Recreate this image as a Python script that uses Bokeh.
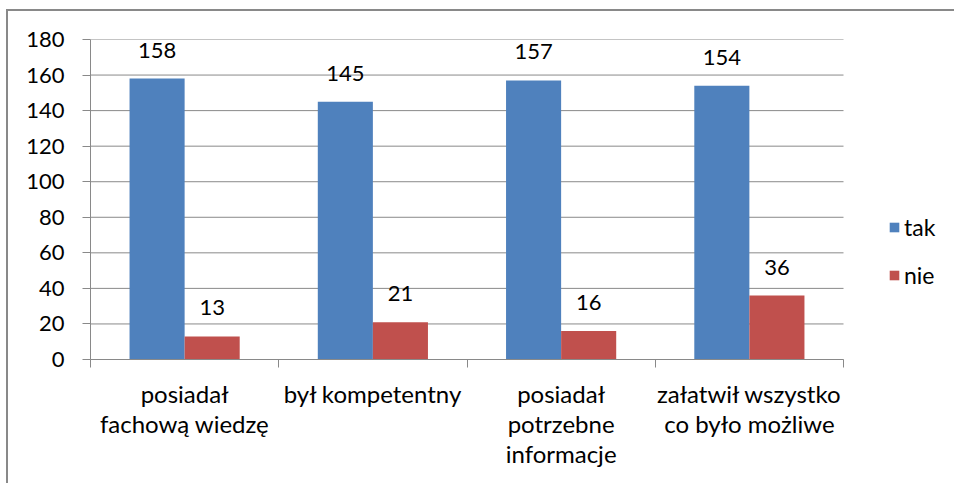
import numpy as np
from bokeh.plotting import figure
from bokeh.models import (ColumnDataSource, Range1d, FixedTicker, LabelSet, Legend, LegendItem)
from bokeh.core.properties import value
from bokeh.transform import dodge
from bokeh.embed import file_html
from bokeh.resources import INLINE

categories = ["posiadał\nfachową wiedzę", "był kompetentny", "posiadał\npotrzebne\ninformacje",
              "załatwił wszystko\nco było możliwe"]
tak = [158, 145, 157, 154]
nie = [13, 21, 16, 36]
y_ticks = [0, 20, 40, 60, 80, 100, 120, 140, 160, 180]
series_names = ["tak", "nie"]

BLUE = "#4F81BD"
RED = "#C0504D"
GRAY = "#898989"
FONT = "Lato"
FS_NUM = "22px"
FS_TXT = "24px"

n = len(categories)
centers = list(np.arange(n) + 0.5)
edges = list(np.arange(n + 1).astype(float))

# the frame also holds the legend area on the right; the category axis spans [0, n]
FRAME_W = 864
AXIS_W = 753
x_end = n * FRAME_W / AXIS_W

src = ColumnDataSource(dict(x=centers, tak=tak, nie=nie,
                            tak_s=[str(v) for v in tak], nie_s=[str(v) for v in nie]))

p = figure(frame_width=FRAME_W, frame_height=320, output_backend="svg", toolbar_location=None,
           x_range=Range1d(0, x_end), y_range=Range1d(y_ticks[0], y_ticks[-1]),
           min_border_left=82, min_border_top=28, min_border_bottom=124, min_border_right=0,
           styles={"margin-left": "6px", "margin-top": "9px",
                   "border-left": f"2px solid {GRAY}", "border-top": f"2px solid {GRAY}"})
p.outline_line_color = None
p.xgrid.grid_line_color = None
p.ygrid.grid_line_color = None

# horizontal grid lines spanning only the category axis
p.segment(x0=0, x1=n, y0=y_ticks, y1=y_ticks, line_color=GRAY, line_width=1)

bw = 0.2926
r_tak = p.vbar(x=dodge("x", -bw / 2, range=p.x_range), top="tak", width=bw, source=src,
               fill_color=BLUE, line_color=None)
r_nie = p.vbar(x=dodge("x", bw / 2, range=p.x_range), top="nie", width=bw, source=src,
               fill_color=RED, line_color=None)

for col, off in (("tak", -bw / 2), ("nie", bw / 2)):
    lbl = LabelSet(x=dodge("x", off, range=p.x_range), y=col, text=col + "_s", source=src,
                   text_align="center", text_baseline="alphabetic", y_offset=21,
                   text_font=value(FONT), text_font_size=value(FS_NUM), text_color="#000000")
    p.add_layout(lbl)

# y axis
p.yaxis.ticker = FixedTicker(ticks=y_ticks)
p.yaxis.axis_line_color = GRAY
p.yaxis.major_tick_line_color = GRAY
p.yaxis.major_tick_out = 8
p.yaxis.major_tick_in = 0
p.yaxis.minor_tick_line_color = None
p.yaxis.major_label_standoff = 18
p.yaxis.major_label_text_font = FONT
p.yaxis.major_label_text_font_size = FS_NUM
p.yaxis.major_label_text_color = "#000000"

# x axis
p.xaxis.bounds = (0, n)
p.xaxis.ticker = FixedTicker(ticks=centers, minor_ticks=edges)
p.xaxis.major_label_overrides = {c: lab for c, lab in zip(centers, categories)}
p.xaxis.axis_line_color = GRAY
p.xaxis.major_tick_out = 0
p.xaxis.major_tick_in = 0
p.xaxis.major_tick_line_color = None
p.xaxis.minor_tick_line_color = GRAY
p.xaxis.minor_tick_out = 8
p.xaxis.minor_tick_in = 0
p.xaxis.major_label_standoff = 11
p.xaxis.major_label_text_font = FONT
p.xaxis.major_label_text_font_size = FS_TXT
p.xaxis.major_label_text_color = "#000000"
p.xaxis.major_label_text_line_height = 1.05

legend = Legend(items=[LegendItem(label=series_names[0], renderers=[r_tak]),
                       LegendItem(label=series_names[1], renderers=[r_nie])],
                location=(798, 70), orientation="vertical",
                glyph_width=12, glyph_height=12, label_height=24, spacing=20,
                label_standoff=4, padding=0, margin=0,
                border_line_color=None, background_fill_alpha=0,
                label_text_font=FONT, label_text_font_size="23px", label_text_color="#000000")
p.add_layout(legend, "center")

open("out.html", "w").write(file_html(p, INLINE))
